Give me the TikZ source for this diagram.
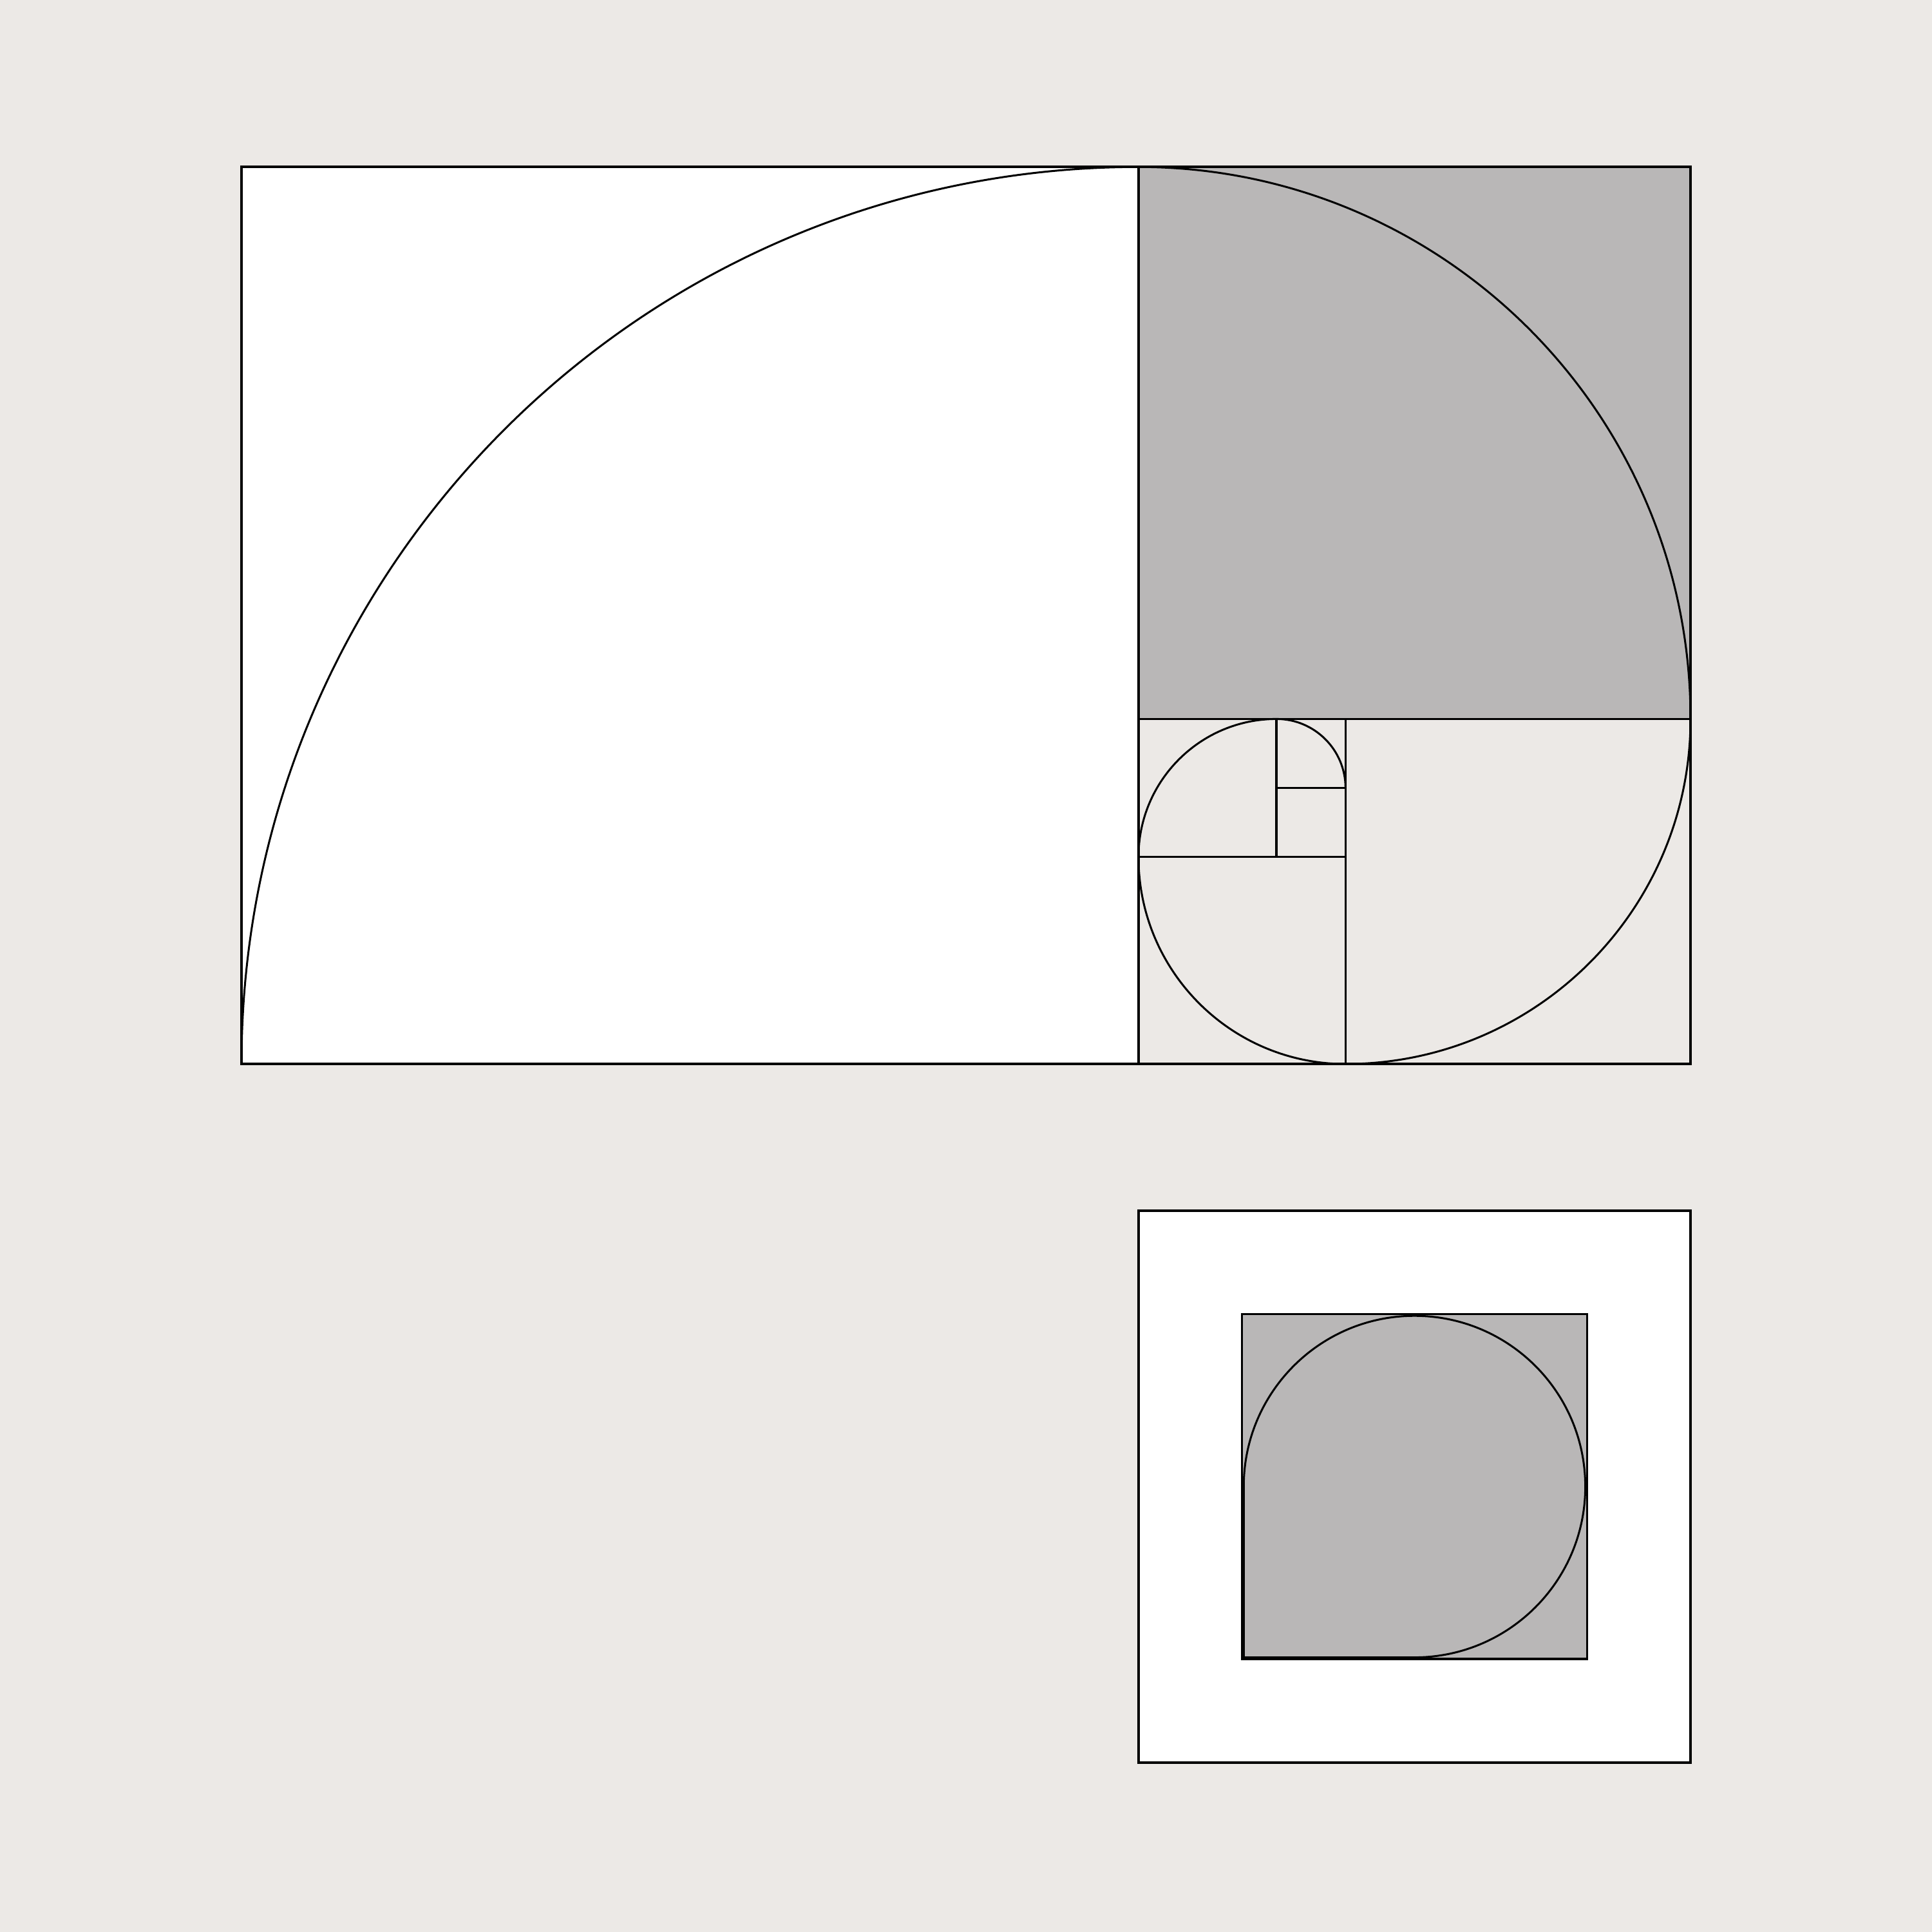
\documentclass[tikz,border=0pt]{standalone}
\usepackage{xcolor}
\usepackage{tikz}

\definecolor{paper}{HTML}{ECE9E6}
\definecolor{shade}{HTML}{B9B7B7}

\begin{document}
\begin{tikzpicture}[x=1cm, y=1cm, line width=0.95pt,
  square/.style={draw=black},
  spiral/.style={draw=black, line width=0.8pt}]

\fill[paper] (-3.5,-12.58) rectangle (24.5,15.42);
\useasboundingbox (-3.5,-12.58) rectangle (24.5,15.42);

% golden rectangle
\filldraw[square, fill=white] (0,0) rectangle (13,13);
\filldraw[square, fill=shade] (13,5) rectangle (21,13);
\foreach \xa/\ya/\xb/\yb in {16/0/21/5, 13/0/16/3, 13/3/15/5, 15/4/16/5, 15/3/16/4}
  \draw [square] (\xa,\ya) rectangle (\xb,\yb);

% spiral
\foreach \cx/\cy/\r/\s in {13/0/13/180, 13/5/8/90, 16/5/5/0, 16/3/3/-90, 15/3/2/180, 15/4/1/90}
  \draw [spiral] (\cx,\cy) ++(\s:\r) arc [start angle=\s, end angle=\s-90, radius=\r];

% single square
\filldraw[square, fill=white] (13,-10.125) rectangle (21,-2.125);
\filldraw[square, fill=shade] (14.5,-8.625) rectangle (19.5,-3.625);
\draw [spiral] (14.525,-8.6) -- (14.525,-6.125)
  arc [start angle=180, end angle=-90, radius=2.475] -- cycle;

\end{tikzpicture}
\end{document}
